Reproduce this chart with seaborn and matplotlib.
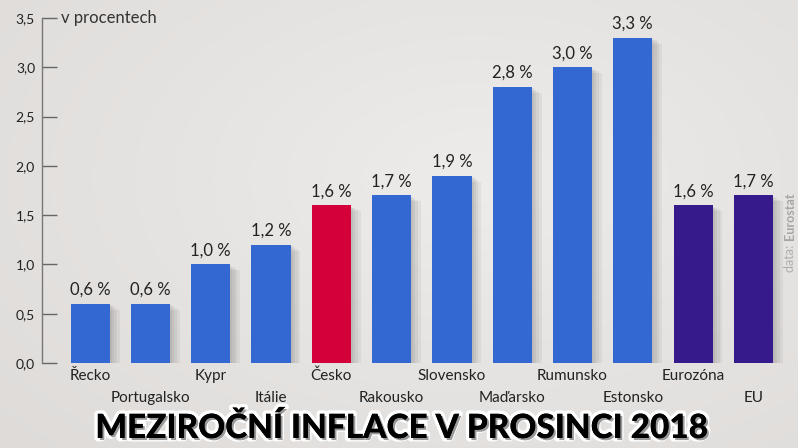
import numpy as np
import pandas as pd
import matplotlib
matplotlib.use("Agg")
import matplotlib.pyplot as plt
import matplotlib.patheffects as pe
import seaborn as sns

countries = ["Řecko", "Portugalsko", "Kypr", "Itálie", "Česko", "Rakousko",
             "Slovensko", "Maďarsko", "Rumunsko", "Estonsko", "Eurozóna", "EU"]
inflation = [0.6, 0.6, 1.0, 1.2, 1.6, 1.7, 1.9, 2.8, 3.0, 3.3, 1.6, 1.7]
bar_colors = ["#3367d1"] * 4 + ["#d3003a"] + ["#3367d1"] * 5 + ["#361a8c"] * 2
y_ticks = [0.0, 0.5, 1.0, 1.5, 2.0, 2.5, 3.0, 3.5]
y_tick_labels = ["0,0", "0,5", "1,0", "1,5", "2,0", "2,5", "3,0", "3,5"]

df = pd.DataFrame({"country": countries, "value": inflation})

sns.set_style("white")
plt.rcParams["font.family"] = ["Lato", "DejaVu Sans"]

fig = plt.figure(figsize=(7.98, 4.48), dpi=100)

# soft grey background with a lighter centre
bg = fig.add_axes([0, 0, 1, 1], zorder=-5)
yy, xx = np.mgrid[0:1:200j, 0:1:360j]
r = np.sqrt(((xx - 0.6) / 0.9) ** 2 + ((yy - 0.4) / 1.0) ** 2)
bg.imshow(np.clip(r, 0, 1), cmap=matplotlib.colors.LinearSegmentedColormap.from_list(
    "bg", ["#edecea", "#dedbd9"]), aspect="auto", extent=[0, 1, 0, 1])
bg.axis("off")

ax = fig.add_axes([0.0526, 0.1897, 0.9474, 0.7701])
ax.patch.set_alpha(0)

sns.barplot(data=df, x="country", y="value", hue="country", palette=bar_colors,
            width=0.65, saturation=1, legend=False, linewidth=0, ax=ax)

# blurred-looking drop shadow
shadow = [pe.SimplePatchShadow(offset=(d, -d * 0.6), shadow_rgbFace="#444444", alpha=0.07)
          for d in (7, 5, 3, 1.5)]
for bar in ax.patches:
    bar.set_path_effects(shadow + [pe.Normal()])

for i, v in enumerate(inflation):
    ax.text(i, v + 0.06, f"{v:.1f} %".replace(".", ","), ha="center", va="bottom",
            fontsize=12, color="#222222")

ax.set_ylim(0, 3.5)
ax.set_xlim(-0.8, 11.74)
ax.set_yticks(y_ticks)
ax.set_yticklabels(y_tick_labels, fontsize=10, color="#222222")
ax.set_xlabel("")
ax.set_ylabel("")
ax.tick_params(axis="y", direction="in", length=11, width=1, color="#666666", pad=5, left=True)
ax.tick_params(axis="x", length=0)
ax.set_xticks(range(len(countries)))
ax.set_xticklabels(countries, fontsize=11, color="#222222")
for i, tick in enumerate(ax.xaxis.get_major_ticks()):
    tick.set_pad(4 if i % 2 == 0 else 20)

for s in ["top", "right", "bottom"]:
    ax.spines[s].set_visible(False)
ax.spines["left"].set_color("#777777")
ax.spines["left"].set_linewidth(1)

ax.text(0.025, 3.5, "v procentech", transform=ax.get_yaxis_transform(),
        ha="left", va="center", fontsize=12, color="#333333")

fig.text(0.99, 1 - 272 / 448, "data: ", rotation=90, ha="center", va="bottom",
         fontsize=9, color="#b0aeac")
fig.text(0.99, 1 - 240 / 448, "Eurostat", rotation=90, ha="center", va="bottom",
         fontsize=9, color="#a8a6a4", fontweight="bold")

title = fig.text(0.503, 1 - 428 / 448, "MEZIROČNÍ INFLACE V PROSINCI 2018", ha="center", va="center",
                 fontsize=24, fontweight="black", color="black")
title.set_path_effects([pe.withStroke(linewidth=5, foreground="white"),
                        pe.SimplePatchShadow(offset=(1.5, -1.5), alpha=0.4), pe.Normal()])

fig.savefig("out.png", dpi=100, facecolor="#e4e2e0")
